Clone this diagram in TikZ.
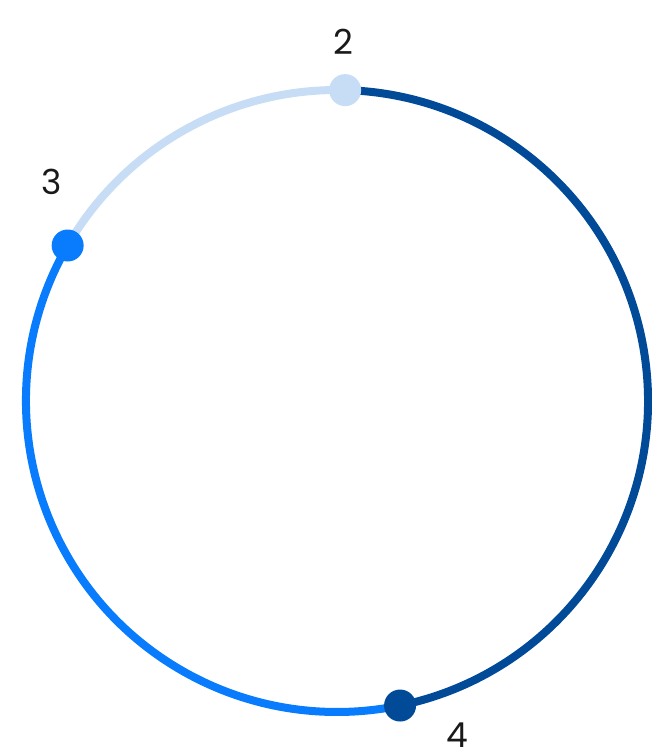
\documentclass[tikz,border=0pt]{standalone}
\usepackage{fontspec}
\setmainfont{Poppins}
\usepackage{tikz}
\usetikzlibrary{calc,positioning}
\definecolor{palesky}{HTML}{C6DDF5}
\definecolor{brightblue}{HTML}{087CFC}
\definecolor{deepblue}{HTML}{004A98}

\tikzset{
  ring/.style={line width=0.08cm},
  knot/.style={circle,inner sep=0pt,minimum size=0.32cm},
  num/.style={font=\fontsize{9.8}{12}\selectfont,text=black!90,inner sep=0pt}
}

\begin{document}
\begin{tikzpicture}
  \useasboundingbox (0,0) rectangle (6.51,-7.48);
  \coordinate (c) at (3.37,-4.01);
  % ring pieces
  \draw[ring,palesky] ($(c)+(88.5:3.11)$) arc[start angle=88.5,end angle=150,radius=3.11];
  \draw[ring,brightblue] ($(c)+(150:3.11)$) arc[start angle=150,end angle=281.7,radius=3.11];
  \draw[ring,deepblue] ($(c)+(281.7:3.11)$) arc[start angle=281.7,end angle=448.5,radius=3.11];
  % dots
  \node[knot,fill=palesky] (d2) at ($(c)+(88.5:3.11)$) {};
  \node[knot,fill=brightblue] (d3) at ($(c)+(150:3.11)$) {};
  \node[knot,fill=deepblue] (d4) at ($(c)+(281.7:3.11)$) {};
  % labels
  \node[num] (l2) at (3.43,-0.42) {2};
  \node[num] (l3) at (0.52,-1.82) {3};
  \node[num] (l4) at (4.57,-7.35) {4};
\end{tikzpicture}
\end{document}
